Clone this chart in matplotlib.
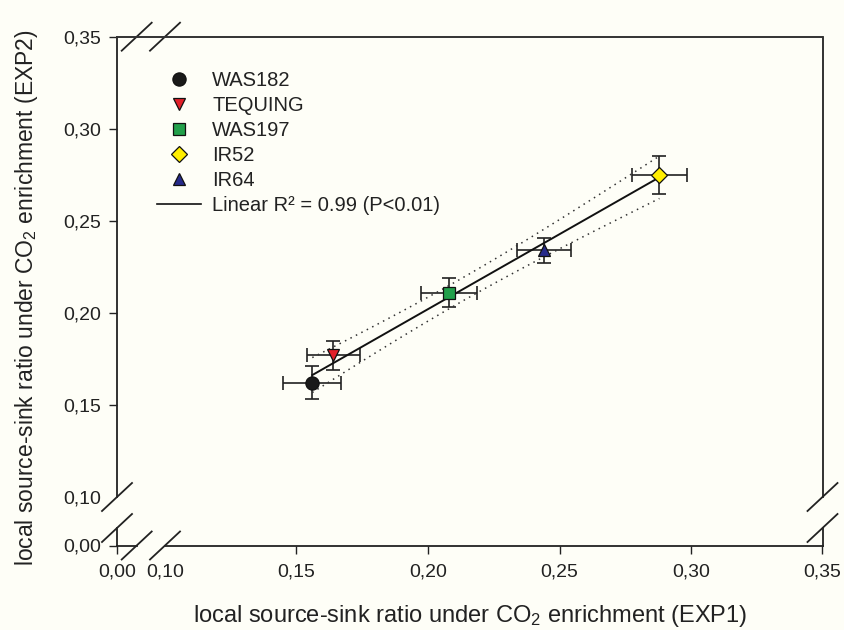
import numpy as np
import matplotlib
matplotlib.use('Agg')
import matplotlib.pyplot as plt
from matplotlib.lines import Line2D

plt.rcParams['font.family'] = ['Liberation Sans', 'DejaVu Sans']
plt.rcParams['mathtext.fontset'] = 'custom'
plt.rcParams['mathtext.rm'] = 'Liberation Sans'
plt.rcParams['mathtext.it'] = 'Liberation Sans:italic'
plt.rcParams['mathtext.bf'] = 'Liberation Sans:bold'

# ---- data ----
cultivars = ['WAS182', 'TEQUING', 'WAS197', 'IR52', 'IR64']
exp1 = [0.156, 0.164, 0.208, 0.288, 0.244]
exp2 = [0.162, 0.177, 0.211, 0.275, 0.234]
exp1_err = [0.011, 0.010, 0.0105, 0.0105, 0.0103]
exp2_err = [0.009, 0.0078, 0.008, 0.0103, 0.0068]
markers = ['o', 'v', 's', 'D', '^']
colors = ['#1a1a1a', '#e3202a', '#22a04b', '#ffee00', '#262a8a']
msizes = [9.5, 9.0, 8.5, 8.0, 9.0]

tick_values = [0.00, 0.10, 0.15, 0.20, 0.25, 0.30, 0.35]
tick_labels = ['0,00', '0,10', '0,15', '0,20', '0,25', '0,30', '0,35']
fit_label = 'Linear R\u00b2 = 0.99 (P<0.01)'

BG = '#fefef7'
W, H = 844, 630
fig = plt.figure(figsize=(W / 100, H / 100), dpi=100, facecolor=BG)
left_px, right_px, top_px, bot_px = 117, 822.5, 36.7, 545.5
ax = fig.add_axes([left_px / W, (H - bot_px) / H,
                   (right_px - left_px) / W, (bot_px - top_px) / H])
ax.set_facecolor(BG)

# broken-axis: 0.00 placed a short distance below/left of 0.10
x_px_per_unit = (right_px - 165) / 0.25
y_px_per_unit = (497 - top_px) / 0.25
x0_fake = 0.10 - (165 - left_px) / x_px_per_unit
y0_fake = 0.10 - (bot_px - 497) / y_px_per_unit
ax.set_xlim(x0_fake, 0.35)
ax.set_ylim(y0_fake, 0.35)

xt = [x0_fake] + tick_values[1:]
yt = [y0_fake] + tick_values[1:]
ax.set_xticks(xt)
ax.set_xticklabels(tick_labels)
ax.set_yticks(yt)
ax.set_yticklabels(tick_labels)
ax.tick_params(direction='out', length=5.6, width=1.0, labelsize=14,
               colors='#222222', top=False, right=False)
ax.tick_params(axis='x', pad=7.5)
ax.tick_params(axis='y', pad=6)
ax.xaxis.get_major_ticks()[1].tick1line.set_visible(False)
ax.yaxis.get_major_ticks()[1].tick1line.set_visible(False)

# ---- regression and confidence band ----
x = np.array(exp1)
y = np.array(exp2)
slope, intercept = np.polyfit(x, y, 1)
n = len(x)
resid = y - (slope * x + intercept)
s = np.sqrt(np.sum(resid ** 2) / (n - 2))
t_val = 3.182  # t(0.975, df=3)
xs = np.linspace(x.min(), x.max(), 200)
ys = slope * xs + intercept
se = s * np.sqrt(1 / n + (xs - x.mean()) ** 2 / np.sum((x - x.mean()) ** 2))
ax.plot(xs, ys, color='#111111', lw=1.4, zorder=3)
ax.plot(xs, ys + t_val * se, color='#333333', lw=1.1, ls=(0, (1, 3)), zorder=3)
ax.plot(xs, ys - t_val * se, color='#333333', lw=1.1, ls=(0, (1, 3)), zorder=3)

# ---- error bars and markers ----
ax.errorbar(x, y, xerr=exp1_err, yerr=exp2_err, fmt='none', ecolor='#222222',
            elinewidth=1.2, capsize=5, capthick=1.2, zorder=2)
handles = []
for i in range(len(cultivars)):
    h, = ax.plot(x[i], y[i], ls='none', marker=markers[i], ms=msizes[i],
                 mfc=colors[i], mec='#111111', mew=0.9, zorder=5,
                 label=cultivars[i])
    handles.append(h)
line_handle = Line2D([], [], color='#111111', lw=1.2, label=fit_label)
handles.append(line_handle)
leg = ax.legend(handles=handles, loc='upper left',
                bbox_to_anchor=((157 - left_px) / (right_px - left_px),
                                (bot_px - 71) / (bot_px - top_px)),
                borderaxespad=0, borderpad=0, frameon=False, fontsize=14.5,
                handlelength=2.2, handletextpad=0.55, labelspacing=0.3,
                numpoints=1)
for txt in leg.get_texts():
    txt.set_color('#222222')

# ---- spines with breaks ----
for sp in ['left', 'bottom', 'right']:
    ax.spines[sp].set_visible(False)
ax.spines['top'].set_linewidth(1.4)
ax.spines['top'].set_color('#333333')

aw = right_px - left_px
ah = bot_px - top_px
ybrk_hi = (bot_px - 497) / ah
ybrk_lo = (bot_px - 528) / ah
xbrk_lo = (136.7 - left_px) / aw
xbrk_hi = (165 - left_px) / aw
kw = dict(transform=ax.transAxes, clip_on=False, color='#222222', lw=1.3)
for xx in (0, 1):
    ax.add_line(Line2D([xx, xx], [0, ybrk_lo], **kw))
    ax.add_line(Line2D([xx, xx], [ybrk_hi, 1], **kw))
ax.add_line(Line2D([0, xbrk_lo], [0, 0], **kw))
ax.add_line(Line2D([xbrk_hi, 1], [0, 0], **kw))

dx = 15 / aw
dy = 14 / ah
slash_centers = [(0, ybrk_hi), (0, ybrk_lo), (1, ybrk_hi), (1, ybrk_lo),
                 (xbrk_lo, 0), (xbrk_hi, 0), (xbrk_lo, 1), (xbrk_hi, 1)]
for cx, cy in slash_centers:
    ax.add_line(Line2D([cx - dx, cx + dx], [cy - dy, cy + dy], **kw))

# ---- labels ----
ax.set_xlabel('local source-sink ratio under CO$_2$ enrichment (EXP1)',
              fontsize=17, color='#222222', labelpad=16)
ax.set_ylabel('local source-sink ratio under CO$_2$ enrichment (EXP2)',
              fontsize=16.5, color='#222222', labelpad=16.5)
ax.yaxis.label.set_y((bot_px - 298) / ah)

fig.savefig('out.png', dpi=100, facecolor=BG)
